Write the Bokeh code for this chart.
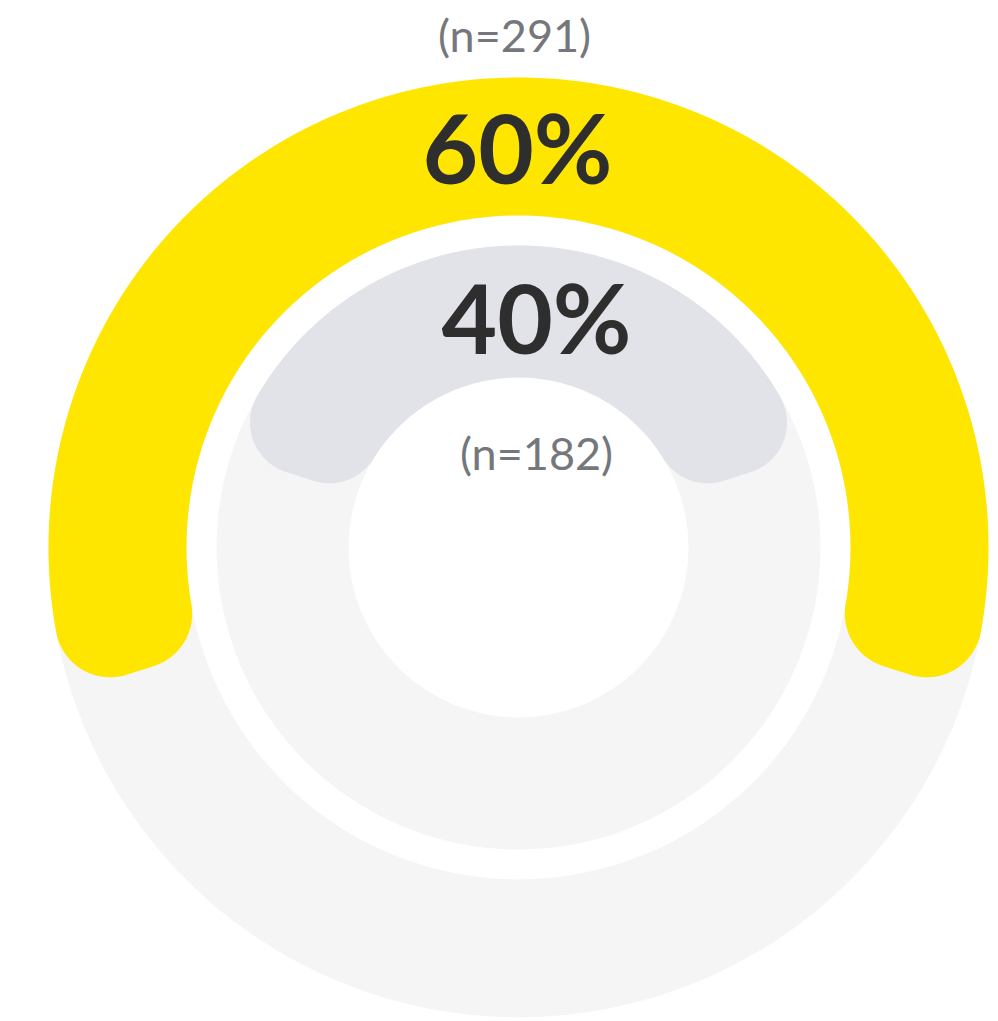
import numpy as np
from bokeh.plotting import figure
from bokeh.models import Range1d, ColumnDataSource
from bokeh.core.properties import value
from bokeh.embed import file_html
from bokeh.resources import INLINE

# ---- data ----
ring_names = ["outer", "inner"]
percents = [60, 40]
n_values = [291, 182]
pct_labels = ["60%", "40%"]
n_labels = ["(n=291)", "(n=182)"]

# ---- styling / geometry (pixel units, centre at 0,0) ----
ring_outer_r = [470, 302]
ring_inner_r = [332, 170]
arc_colors = ["#FFE600", "#E1E3E8"]
track_color = "#F5F5F6"
corner_r = [55, 52]
pct_pos = [(-1, 401), (18, 231)]
n_pos = [(-4, 513), (18, 95)]

W, H = 998, 1021
p = figure(width=W, height=H, output_backend="svg", toolbar_location=None,
           x_range=Range1d(-518, 480), y_range=Range1d(-474, 547),
           x_axis_type=None, y_axis_type=None, min_border=0,
           outline_line_color=None, background_fill_color="white",
           border_fill_color="white")
p.grid.visible = False


def rounded_sector(r_in, r_out, a_lo, a_hi, c, n=60):
    phi = np.arcsin(c / (r_out - c))
    psi = np.arcsin(c / (r_in + c))
    xs, ys = [], []

    def add(cx, cy, r, t0, t1, m):
        t = np.linspace(t0, t1, m)
        xs.extend(cx + r * np.cos(t))
        ys.extend(cy + r * np.sin(t))

    # outer arc
    add(0, 0, r_out, a_lo + phi, a_hi - phi, 300)
    # outer-high fillet
    ca = a_hi - phi
    add((r_out - c) * np.cos(ca), (r_out - c) * np.sin(ca), c, ca, a_hi + np.pi / 2, n)
    # inner-high fillet
    cb = a_hi - psi
    add((r_in + c) * np.cos(cb), (r_in + c) * np.sin(cb), c, a_hi + np.pi / 2, cb + np.pi, n)
    # inner arc
    add(0, 0, r_in, a_hi - psi, a_lo + psi, 200)
    # inner-low fillet
    cc = a_lo + psi
    add((r_in + c) * np.cos(cc), (r_in + c) * np.sin(cc), c, cc + np.pi, a_lo + 1.5 * np.pi, n)
    # outer-low fillet
    cd = a_lo + phi
    add((r_out - c) * np.cos(cd), (r_out - c) * np.sin(cd), c, a_lo + 1.5 * np.pi, cd + 2 * np.pi, n)
    return xs, ys


# background tracks
p.annulus(x=[0, 0], y=[0, 0], inner_radius=ring_inner_r, outer_radius=ring_outer_r,
          fill_color=track_color, line_color=None)

# value arcs
for i in range(len(percents)):
    f = percents[i] / 100.0
    a_lo = np.pi / 2 - f * np.pi
    a_hi = np.pi / 2 + f * np.pi
    xs, ys = rounded_sector(ring_inner_r[i], ring_outer_r[i], a_lo, a_hi, corner_r[i])
    p.patch(xs, ys, fill_color=arc_colors[i], line_color=None)

# labels
src_pct = ColumnDataSource(dict(x=[q[0] for q in pct_pos], y=[q[1] for q in pct_pos], t=pct_labels))
p.text(x="x", y="y", text="t", source=src_pct, text_align="center", text_baseline="middle",
       text_font=value("Lato"), text_font_style="bold", text_font_size="96px",
       text_color="#2E2E2E")
src_n = ColumnDataSource(dict(x=[q[0] for q in n_pos], y=[q[1] for q in n_pos], t=n_labels))
p.text(x="x", y="y", text="t", source=src_n, text_align="center", text_baseline="middle",
       text_font=value("Lato"), text_font_size="45px", text_color="#75777D")

open("out.html", "w").write(file_html(p, INLINE))
